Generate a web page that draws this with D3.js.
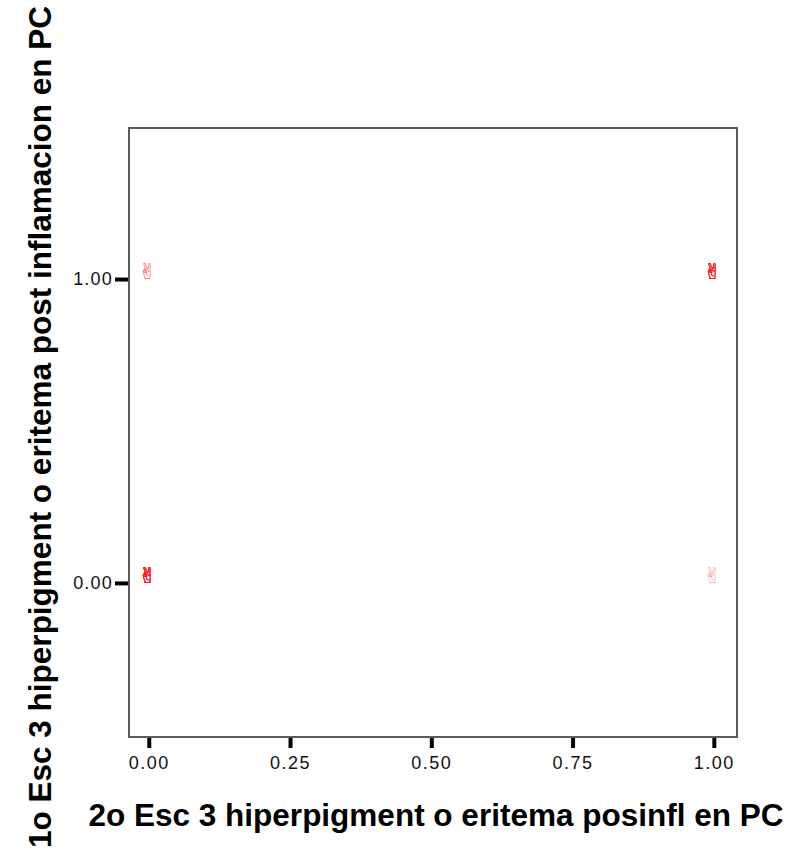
<!DOCTYPE html>
<html>
<head>
<meta charset="utf-8">
<script src="https://cdn.jsdelivr.net/npm/d3@7"></script>
<style>
  html, body { margin: 0; padding: 0; background: #fff; }
  svg { display: block; }
</style>
</head>
<body>
<svg id="chart" width="791" height="855"></svg>
<script>
// Cell positions (x = 2o Esc 3, y = 1o Esc 3) and how many cases fall on each.
const xValues = [0, 1, 0, 1];
const yValues = [0, 0, 1, 1];
const caseCounts = [14, 1, 2, 10];

const xTicks = [0, 0.25, 0.5, 0.75, 1];
const yTicks = [0, 1];

const xTitle = "2o Esc 3 hiperpigment o eritema posinfl en PC";
const yTitle = "1o Esc 3 hiperpigment o eritema post inflamacion en PC";

const svg = d3.select("#chart");
const margin = { left: 129, top: 128, right: 54, bottom: 118 };
const W = 791, H = 855;

const x = d3.scaleLinear().domain([-0.035, 1.041]).range([margin.left, W - margin.right]);
const y = d3.scaleLinear().domain([-0.507, 1.497]).range([H - margin.bottom, margin.top]);

// plot frame
svg.append("rect")
  .attr("x", margin.left).attr("y", margin.top)
  .attr("width", W - margin.left - margin.right)
  .attr("height", H - margin.top - margin.bottom)
  .attr("fill", "#fff").attr("stroke", "#5a5a5a").attr("stroke-width", 2);

const font = "'Liberation Sans', Arial, sans-serif";

// x axis
const xAxis = svg.append("g")
  .attr("transform", `translate(0,${H - margin.bottom})`)
  .call(d3.axisBottom(x).tickValues(xTicks).tickFormat(d3.format(".2f")).tickSize(11).tickPadding(8));
xAxis.select(".domain").remove();
xAxis.selectAll(".tick line").attr("stroke", "#000").attr("stroke-width", 4).attr("y1", 1);
xAxis.selectAll(".tick text")
  .attr("font-family", font).attr("font-size", 18).attr("letter-spacing", 1.5)
  .attr("fill", "#111");

// y axis
const yAxis = svg.append("g")
  .attr("transform", `translate(${margin.left},0)`)
  .call(d3.axisLeft(y).tickValues(yTicks).tickFormat(d3.format(".2f")).tickSize(14).tickPadding(2));
yAxis.select(".domain").remove();
yAxis.selectAll(".tick line").attr("stroke", "#000").attr("stroke-width", 4).attr("x1", -14).attr("x2", -1);
yAxis.selectAll(".tick text")
  .attr("font-family", font).attr("font-size", 18).attr("letter-spacing", 1.2)
  .attr("fill", "#111");

// axis titles
svg.append("text")
  .attr("x", (89 + 783) / 2).attr("y", 826)
  .attr("text-anchor", "middle")
  .attr("font-family", font).attr("font-weight", "bold").attr("font-size", 31.5)
  .attr("fill", "#000")
  .text(xTitle);

svg.append("text")
  .attr("transform", `translate(51,${(4 + 850) / 2}) rotate(-90)`)
  .attr("text-anchor", "middle")
  .attr("font-family", font).attr("font-weight", "bold").attr("font-size", 31.5)
  .attr("fill", "#000")
  .text(yTitle);

// one marker glyph per case, stacked on its cell
const cases = [];
xValues.forEach((xv, i) => {
  for (let k = 0; k < caseCounts[i]; k++) cases.push({ x: xv, y: yValues[i] });
});

svg.append("g").selectAll("text")
  .data(cases)
  .join("text")
  .attr("x", d => x(d.x) - 1)
  .attr("y", d => y(d.y))
  .attr("text-anchor", "middle")
  .attr("font-family", "'DejaVu Sans', sans-serif")
  .attr("font-size", 22)
  .attr("fill", "#ff1a1a")
  .attr("fill-opacity", 0.45)
  .text("\u270C");
</script>
</body>
</html>
